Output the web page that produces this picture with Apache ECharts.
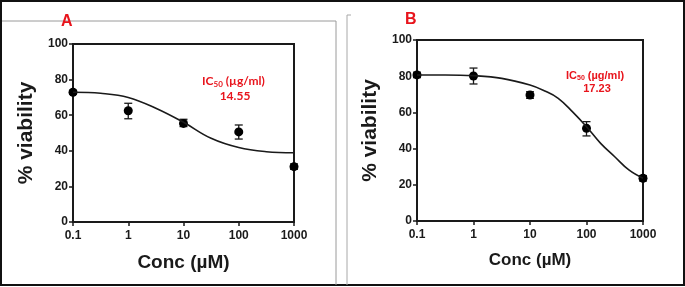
<!DOCTYPE html>
<html>
<head>
<meta charset="utf-8">
<script src="https://cdn.jsdelivr.net/npm/echarts@6/dist/echarts.min.js"></script>
<style>
  html, body { margin: 0; padding: 0; background: #fff; }
  #chart { width: 685px; height: 287px; }
</style>
</head>
<body>
<div id="chart"></div>
<script>
// concentrations (uM)
var conc = [0.1, 1, 10, 100, 1000];

// panel A: mean viability and error range
var meanA = [72.9, 62.5, 55.4, 50.6, 31.1];
var lowA  = [71.8, 58.0, 53.6, 46.6, 29.6];
var highA = [74.0, 66.7, 57.7, 54.5, 32.6];
var curveXA = [0.1, 0.316, 1, 3.16, 10, 31.6, 100, 316, 1000];
var curveYA = [72.9, 72.3, 70.0, 63.9, 56.0, 47.0, 41.8, 39.5, 38.9];

// panel B
var meanB = [80.7, 80.1, 69.6, 51.2, 23.6];
var lowB  = [79.2, 75.7, 67.8, 47.0, 22.1];
var highB = [82.2, 84.5, 71.4, 54.9, 25.1];
var curveXB = [0.1, 0.316, 1, 3.16, 10, 17.8, 31.6, 56.2, 100, 178, 316, 562, 1000];
var curveYB = [80.7, 80.7, 80.3, 78.8, 75.1, 72.0, 67.8, 60.4, 52.1, 42.9, 35.5, 28.2, 23.6];

var yTicks = [0, 20, 40, 60, 80, 100];
var ic50A = '14.55';
var ic50B = '17.23';

var font = 'Liberation Sans, Arial, sans-serif';
var ink = '#1a1a1a';
var red = '#e8141c';

function pairs(xs, ys) {
    var out = [];
    for (var i = 0; i < xs.length; i++) out.push([xs[i], ys[i]]);
    return out;
}
function errData(lo, hi) {
    var out = [];
    for (var i = 0; i < conc.length; i++) out.push([conc[i], lo[i], hi[i]]);
    return out;
}
function renderErr(params, api) {
    var top = api.coord([api.value(0), api.value(2)]);
    var bot = api.coord([api.value(0), api.value(1)]);
    var w = 4;
    var st = { stroke: ink, lineWidth: 1.3 };
    return {
        type: 'group',
        children: [
            { type: 'line', shape: { x1: top[0], y1: top[1], x2: bot[0], y2: bot[1] }, style: st },
            { type: 'line', shape: { x1: top[0] - w, y1: top[1], x2: top[0] + w, y2: top[1] }, style: st },
            { type: 'line', shape: { x1: bot[0] - w, y1: bot[1], x2: bot[0] + w, y2: bot[1] }, style: st }
        ]
    };
}

function xAxisFor(idx, nameSize) {
    return {
        gridIndex: idx, type: 'log', logBase: 10, min: 0.1, max: 1000,
        name: 'Conc (µM)', nameLocation: 'middle', nameGap: 31,
        nameTextStyle: { fontFamily: font, fontWeight: 'bold', fontSize: nameSize, color: ink },
        axisLine: { lineStyle: { color: ink, width: 2 } },
        axisTick: { inside: false, length: 4, lineStyle: { color: ink, width: 1.5 } },
        minorTick: { show: false },
        splitLine: { show: false },
        axisLabel: {
            fontFamily: font, fontWeight: 'bold', fontSize: 12, color: ink, margin: 8,
            formatter: function (v) { return String(+v.toPrecision(3)); }
        }
    };
}
function yAxisFor(idx) {
    return {
        gridIndex: idx, type: 'value', min: yTicks[0], max: yTicks[yTicks.length - 1], interval: 20,
        name: '% viability', nameLocation: 'middle', nameGap: 36,
        nameTextStyle: { fontFamily: font, fontWeight: 'bold', fontSize: 21, color: ink },
        axisLine: { lineStyle: { color: ink, width: 2 } },
        axisTick: { inside: false, length: 4, lineStyle: { color: ink, width: 1.5 } },
        splitLine: { show: false },
        axisLabel: { fontFamily: font, fontWeight: 'bold', fontSize: 12, color: ink, margin: 5 }
    };
}

var chart = echarts.init(document.getElementById('chart'), null, { renderer: 'canvas' });

var option = {
    animation: false,
    backgroundColor: '#fff',
    grid: [
        { left: 73, top: 44, width: 221, height: 178, show: true, borderColor: ink, borderWidth: 2 },
        { left: 417, top: 40, width: 226, height: 181, show: true, borderColor: ink, borderWidth: 2 }
    ],
    xAxis: [xAxisFor(0, 19), xAxisFor(1, 17)],
    yAxis: [yAxisFor(0), yAxisFor(1)],
    series: [
        { type: 'line', xAxisIndex: 0, yAxisIndex: 0, data: pairs(curveXA, curveYA), smooth: 0.4,
          showSymbol: false, lineStyle: { color: ink, width: 1.6 } },
        { type: 'custom', xAxisIndex: 0, yAxisIndex: 0, data: errData(lowA, highA), renderItem: renderErr },
        { type: 'scatter', xAxisIndex: 0, yAxisIndex: 0, data: pairs(conc, meanA), symbolSize: 9,
          itemStyle: { color: '#000', opacity: 1 } },
        { type: 'line', xAxisIndex: 1, yAxisIndex: 1, data: pairs(curveXB, curveYB), smooth: 0.4,
          showSymbol: false, lineStyle: { color: ink, width: 1.6 } },
        { type: 'custom', xAxisIndex: 1, yAxisIndex: 1, data: errData(lowB, highB), renderItem: renderErr },
        { type: 'scatter', xAxisIndex: 1, yAxisIndex: 1, data: pairs(conc, meanB), symbolSize: 9,
          itemStyle: { color: '#000', opacity: 1 } }
    ],
    graphic: [
        // outer frame and panel borders
        { type: 'rect', shape: { x: 1, y: 1, width: 683, height: 284 }, style: { fill: null, stroke: '#111', lineWidth: 2 } },
        { type: 'polyline', shape: { points: [[2, 21], [336, 21], [336, 285]] }, style: { fill: null, stroke: '#9a9a9a', lineWidth: 1 } },
        { type: 'polyline', shape: { points: [[351, 15], [347, 15], [347, 285]] }, style: { fill: null, stroke: '#a8a8a8', lineWidth: 1 } },
        // panel letters
        { type: 'text', left: 61, top: 14, style: { text: 'A', font: 'bold 16px ' + font, fill: red } },
        { type: 'text', left: 405, top: 12, style: { text: 'B', font: 'bold 16px ' + font, fill: red } },
        // IC50 notes
        { type: 'text', left: 202, top: 75, style: {
            text: '{a|IC}{s|50}{a| (µg/ml)}\n{b|' + ic50A + '}', align: 'center',
            rich: {
                a: { fontFamily: 'Lato, sans-serif', fontWeight: 'bold', fontSize: 12, fill: red, lineHeight: 15 },
                s: { fontFamily: 'Lato, sans-serif', fontWeight: 'bold', fontSize: 8, fill: red, verticalAlign: 'bottom', lineHeight: 15 },
                b: { fontFamily: 'Lato, sans-serif', fontWeight: 'bold', fontSize: 12, fill: red, lineHeight: 15, width: 66, align: 'center' }
            }
        } },
        { type: 'text', left: 566, top: 70, style: {
            text: '{a|IC}{s|50}{a| (µg/ml)}\n{b|' + ic50B + '}', align: 'center',
            rich: {
                a: { fontFamily: font, fontWeight: 'bold', fontSize: 11, fill: red, lineHeight: 13 },
                s: { fontFamily: font, fontWeight: 'bold', fontSize: 7, fill: red, verticalAlign: 'bottom', lineHeight: 13 },
                b: { fontFamily: font, fontWeight: 'bold', fontSize: 11, fill: red, lineHeight: 13, width: 62, align: 'center' }
            }
        } }
    ]
};
chart.setOption(option);
</script>
</body>
</html>
